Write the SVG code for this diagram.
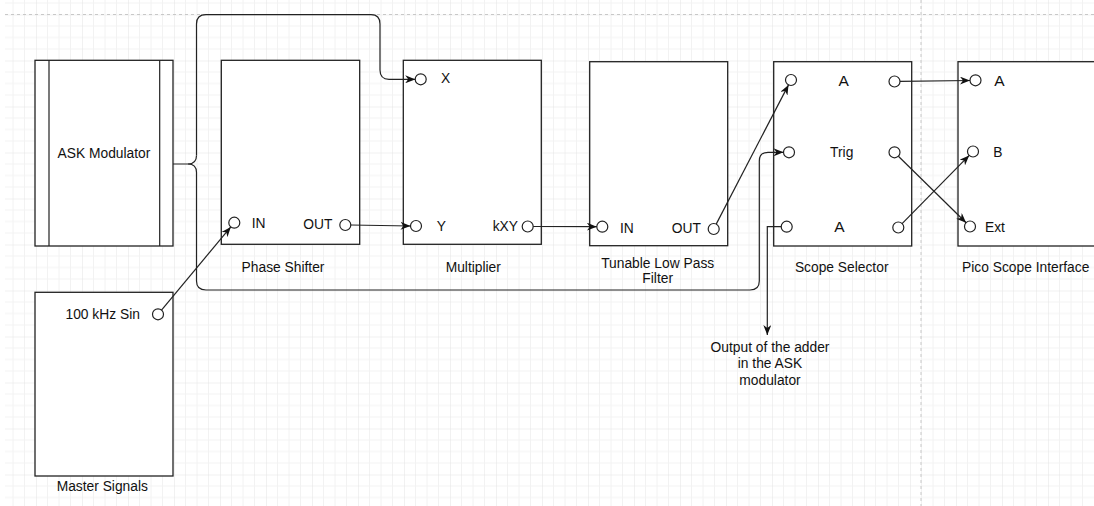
<svg xmlns="http://www.w3.org/2000/svg" width="1094" height="506" viewBox="0 0 1094 506">
<defs>
<pattern id="grid" patternUnits="userSpaceOnUse" x="36" y="14.5" width="46" height="46">
<path d="M11.5,0 V46 M23,0 V46 M34.5,0 V46 M0,11.5 H46 M0,23 H46 M0,34.5 H46" stroke="#f2f2f2" stroke-width="1" fill="none"/>
<path d="M0,0 V46 M0,0 H46" stroke="#e3e3e3" stroke-width="1" fill="none"/>
</pattern>
<marker id="arr" viewBox="0 0 10 8" refX="10" refY="4" markerWidth="10" markerHeight="8" markerUnits="userSpaceOnUse" orient="auto">
<path d="M0,0 L10,4 L0,8 L3,4 Z" fill="#111"/>
</marker>
<style>
.box{fill:#fff;stroke:#222;stroke-width:1.3}
.port{fill:#fff;stroke:#222;stroke-width:1.2}
.t{font-family:"Liberation Sans",Arial,sans-serif;font-size:13.8px;fill:#111}
.c{text-anchor:middle}
.big{font-size:15.5px}
.ln{fill:none;stroke:#222;stroke-width:1.2}
.pg{fill:none;stroke:#c8c8c8;stroke-width:1;stroke-dasharray:3,3}
</style>
</defs>
<rect width="1094" height="506" fill="#fff"/>
<rect x="5" y="0" width="1089" height="506" fill="url(#grid)"/>
<path class="pg" d="M5,14.5 H1094 M921,0 V506"/>

<g id="ask-modulator">
<rect class="box" x="35" y="60.3" width="138" height="185.7"/>
<path class="ln" d="M49,60.3 V246 M159.7,60.3 V246"/>
<text class="t c" x="104" y="158">ASK Modulator</text>
</g>

<g id="master-signals">
<rect class="box" x="35" y="292.3" width="138" height="183.7"/>
<text class="t c" x="102.7" y="318.5">100 kHz Sin</text>
<circle class="port" cx="158" cy="314.3" r="5.5"/>
<text class="t c" x="102.3" y="491">Master Signals</text>
</g>

<g id="phase-shifter">
<rect class="box" x="221.3" y="60.3" width="138.4" height="184"/>
<circle class="port" cx="234.3" cy="222.7" r="5.5"/>
<text class="t" x="251.7" y="228.3">IN</text>
<text class="t" x="303.3" y="228.7">OUT</text>
<circle class="port" cx="345.3" cy="225" r="5.5"/>
<text class="t c" x="283" y="271.5">Phase Shifter</text>
</g>

<g id="multiplier">
<rect class="box" x="403.3" y="60.3" width="138" height="184"/>
<circle class="port" cx="420.7" cy="79.3" r="5.5"/>
<text class="t" x="441" y="83.3">X</text>
<circle class="port" cx="416" cy="226" r="5.5"/>
<text class="t" x="436.7" y="231.3">Y</text>
<text class="t" x="492.7" y="231.3">kXY</text>
<circle class="port" cx="527.7" cy="226.5" r="5.5"/>
<text class="t c" x="473.3" y="271.5">Multiplier</text>
</g>

<g id="low-pass-filter">
<rect class="box" x="589.7" y="61.7" width="138" height="184"/>
<circle class="port" cx="602.3" cy="226.7" r="5.5"/>
<text class="t" x="620" y="233">IN</text>
<text class="t" x="671.7" y="233">OUT</text>
<circle class="port" cx="713.7" cy="229" r="5.5"/>
<text class="t c" x="657.7" y="268.3">Tunable Low Pass</text>
<text class="t c" x="657.7" y="283.3">Filter</text>
</g>

<g id="scope-selector">
<rect class="box" x="773.7" y="61.7" width="138" height="184.3"/>
<circle class="port" cx="791" cy="80" r="5.5"/>
<text class="t big c" x="843.7" y="86">A</text>
<circle class="port" cx="894.5" cy="81.5" r="5.5"/>
<circle class="port" cx="789" cy="152.3" r="5.5"/>
<text class="t c" x="841.7" y="156.5">Trig</text>
<circle class="port" cx="894.5" cy="152.3" r="5.5"/>
<circle class="port" cx="786.7" cy="226.7" r="5.5"/>
<text class="t big c" x="839.5" y="232.3">A</text>
<circle class="port" cx="898.3" cy="227.5" r="5.5"/>
<text class="t c" x="841.7" y="271.5">Scope Selector</text>
</g>

<g id="pico-scope-interface">
<rect class="box" x="958" y="61.7" width="140" height="184.3"/>
<circle class="port" cx="975.5" cy="80.3" r="5.5"/>
<text class="t big" x="994.3" y="85.7">A</text>
<circle class="port" cx="973" cy="151.5" r="5.5"/>
<text class="t" x="993.3" y="156.5">B</text>
<circle class="port" cx="970" cy="226.5" r="5.5"/>
<text class="t" x="985" y="232.3">Ext</text>
<text class="t c" x="1025.7" y="271.5">Pico Scope Interface</text>
</g>

<g id="output-note">
<text class="t c" x="770" y="351.7">Output of the adder</text>
<text class="t c" x="770" y="368.4">in the ASK</text>
<text class="t c" x="770" y="385">modulator</text>
</g>

<g id="connectors">
<path class="ln" marker-end="url(#arr)" d="M161.5,310.1 L230.8,226.9"/>
<path class="ln" marker-end="url(#arr)" d="M350.8,225 L410.5,226"/>
<path class="ln" marker-end="url(#arr)" d="M533.2,226.5 L596.8,226.7"/>
<path class="ln" marker-end="url(#arr)" d="M716.2,224.1 L788.5,84.9"/>
<path class="ln" marker-end="url(#arr)" d="M900,81.3 L970,80.5"/>
<path class="ln" marker-end="url(#arr)" d="M898.4,156.2 L966.1,222.8"/>
<path class="ln" marker-end="url(#arr)" d="M902.1,223.6 L969.2,155.4"/>
<path class="ln" d="M173,164 L188,164 Q196.5,164 196.5,155.5"/>
<path class="ln" marker-end="url(#arr)" d="M196.5,155.5 L196.5,24 Q196.5,14.7 206,14.7 L371,14.7 Q380,14.7 380,24 L380,70 Q380,79.3 389,79.3 L415.2,79.3"/>
<path class="ln" marker-end="url(#arr)" d="M188,164 Q196.5,164 196.5,172.5 L196.5,281 Q196.5,290 206,290 L750,290 Q759.3,290 759.3,281 L759.3,161 Q759.3,152.3 768,152.3 L783.5,152.3"/>
<path class="ln" marker-end="url(#arr)" d="M781.2,226.7 L767.3,226.7 L767.3,335"/>
</g>
</svg>
